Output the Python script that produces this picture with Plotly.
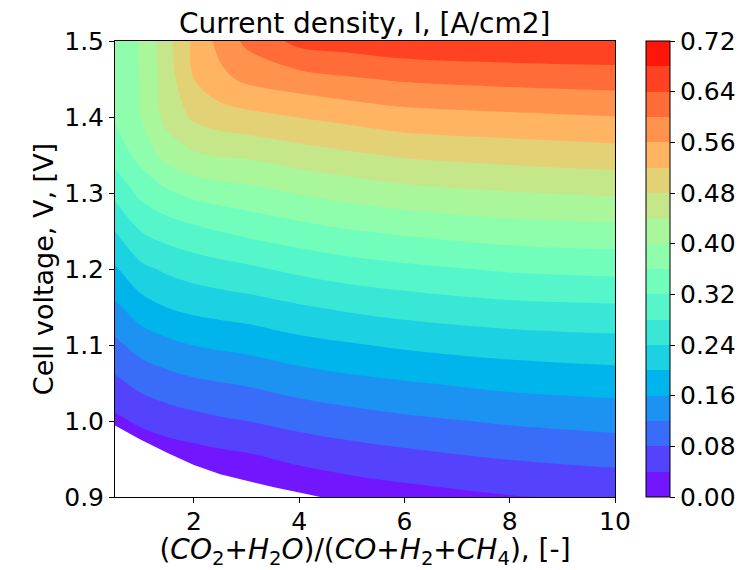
import math
import plotly.graph_objects as go

# ---------------- data ----------------
# gas ratio (CO2+H2O)/(CO+H2+CH4) [-]  (x grid)
ratio = [0.5, 1.0, 1.5, 2.0, 2.5, 3.0, 4.0, 5.0, 6.0, 8.0, 10.0]
# cell voltage [V] (y grid)
voltage = [0.90, 0.95, 1.00, 1.05, 1.10, 1.15, 1.20, 1.25, 1.30, 1.35, 1.40, 1.45, 1.50]

# current density [A/cm2] along the voltage grid, one list per ratio column
i_r0_5 = [-0.049, -0.009, 0.031, 0.071, 0.111, 0.152, 0.195, 0.240, 0.290, 0.336, 0.366, 0.378, 0.385]
i_r1_0 = [-0.042, 0.003, 0.048, 0.092, 0.136, 0.184, 0.231, 0.281, 0.331, 0.375, 0.401, 0.402, 0.403]
i_r1_5 = [-0.034, 0.013, 0.060, 0.104, 0.150, 0.201, 0.247, 0.298, 0.354, 0.415, 0.455, 0.462, 0.468]
i_r2_0 = [-0.028, 0.020, 0.068, 0.113, 0.161, 0.211, 0.258, 0.310, 0.371, 0.435, 0.487, 0.520, 0.528]
i_r2_5 = [-0.021, 0.027, 0.075, 0.119, 0.167, 0.217, 0.266, 0.321, 0.379, 0.444, 0.501, 0.550, 0.573]
i_r3_0 = [-0.016, 0.032, 0.080, 0.124, 0.172, 0.222, 0.273, 0.330, 0.386, 0.447, 0.508, 0.568, 0.609]
i_r4_0 = [0.002, 0.048, 0.093, 0.138, 0.187, 0.236, 0.289, 0.345, 0.402, 0.462, 0.521, 0.584, 0.652]
i_r5_0 = [0.015, 0.059, 0.103, 0.149, 0.197, 0.248, 0.302, 0.358, 0.415, 0.474, 0.533, 0.596, 0.660]
i_r6_0 = [0.024, 0.067, 0.112, 0.157, 0.206, 0.257, 0.311, 0.367, 0.426, 0.485, 0.544, 0.605, 0.670]
i_r8_0 = [0.038, 0.081, 0.125, 0.171, 0.218, 0.270, 0.325, 0.381, 0.438, 0.495, 0.552, 0.613, 0.676]
i_r10_0 = [0.047, 0.090, 0.134, 0.178, 0.225, 0.275, 0.331, 0.387, 0.445, 0.503, 0.559, 0.618, 0.678]

# lower edge of the computed (non-blank) region
blank_ratio = [0.5, 1.0, 1.5, 2.0, 2.5, 3.0, 3.5, 4.0, 4.4]
blank_voltage = [0.994, 0.975, 0.958, 0.942, 0.930, 0.921, 0.913, 0.906, 0.900]

# contour levels and tick labels
level_start, level_end, level_step = 0.0, 0.72, 0.04
cbar_ticks = [0.00, 0.08, 0.16, 0.24, 0.32, 0.40, 0.48, 0.56, 0.64, 0.72]
x_ticks = [2, 4, 6, 8, 10]
y_ticks = [0.9, 1.0, 1.1, 1.2, 1.3, 1.4, 1.5]

# ---------------- figure ----------------
columns = [i_r0_5, i_r1_0, i_r1_5, i_r2_0, i_r2_5, i_r3_0, i_r4_0,
           i_r5_0, i_r6_0, i_r8_0, i_r10_0]
z = [list(row) for row in zip(*columns)]   # rows follow voltage


def rainbow(t):
    r = min(1.0, abs(2 * t - 0.5))
    g = math.sin(math.pi * t)
    b = math.cos(math.pi * t / 2)
    return "rgb(%d,%d,%d)" % (round(r * 255), round(g * 255), round(b * 255))


nbands = int(round((level_end - level_start) / level_step))   # 18
nlev = nbands + 1                                               # 19
band_colors = [rainbow((k + 0.5) / nbands) for k in range(nbands)]

# contour fill: plotly samples band midpoints at colorscale positions j/nlev
fill_scale = [[0.0, "white"]]
for j in range(1, nlev + 1):
    fill_scale.append([j / nlev, band_colors[min(j - 1, nbands - 1)]])

# stepped scale for the colour bar (18 discrete bands from 0 to 0.72)
bar_scale = []
for k, c in enumerate(band_colors):
    bar_scale.append([k / nbands, c])
    bar_scale.append([(k + 1) / nbands, c])

FONT = "DejaVu Sans"

fig = go.Figure()
fig.add_trace(go.Contour(
    x=ratio, y=voltage, z=z,
    autocontour=False,
    contours=dict(start=level_start, end=level_end, size=level_step,
                  coloring="fill", showlines=False),
    line=dict(width=0),
    colorscale=fill_scale,
    showscale=False,
    hoverinfo="skip",
))
fig.add_trace(go.Scatter(
    x=blank_ratio, y=blank_voltage, mode="lines",
    line=dict(width=0, color="white"),
    fill="tozeroy", fillcolor="white",
    showlegend=False, hoverinfo="skip",
))
# colour bar holder (no visible points)
fig.add_trace(go.Scatter(
    x=[None], y=[None], mode="markers",
    marker=dict(color=[level_start], colorscale=bar_scale,
                cmin=level_start, cmax=level_end, showscale=True,
                colorbar=dict(
                    x=1.062, xanchor="left", xpad=0,
                    y=0.5, yanchor="middle", ypad=0,
                    len=1.0, lenmode="fraction",
                    thickness=24, thicknessmode="pixels",
                    outlinewidth=1, outlinecolor="black",
                    tickvals=cbar_ticks, tickformat=".2f",
                    ticks="outside", ticklen=5, tickwidth=1, tickcolor="black",
                    tickfont=dict(family=FONT, size=25, color="black"),
                )),
    showlegend=False, hoverinfo="skip",
))

axis_common = dict(
    showgrid=False, zeroline=False,
    showline=True, linecolor="black", linewidth=1, mirror=True,
    ticks="outside", ticklen=5, tickwidth=1, tickcolor="black",
    tickfont=dict(family=FONT, size=25, color="black"),
)
fig.update_xaxes(range=[0.5, 10], tickvals=x_ticks, ticklabelstandoff=-3,
                 title=dict(text="(<i>CO</i><sub>2</sub>+<i>H</i><sub>2</sub><i>O</i>)/"
                                 "(<i>CO</i>+<i>H</i><sub>2</sub>+<i>CH</i><sub>4</sub>), [-]",
                            font=dict(family=FONT, size=28, color="black"),
                            standoff=6),
                 **axis_common)
fig.update_yaxes(range=[0.9, 1.5], tickvals=y_ticks, tickformat=".1f",
                 title=dict(text="Cell voltage, V, [V]",
                            font=dict(family=FONT, size=27, color="black"),
                            standoff=2),
                 **axis_common)

fig.add_annotation(text="Current density, I, [A/cm2]", x=0.5, y=1.0,
                   xref="paper", yref="paper", xanchor="center", yanchor="bottom",
                   yshift=-1, showarrow=False,
                   font=dict(family=FONT, size=28, color="black"))

fig.update_layout(
    width=748, height=570,
    margin=dict(l=115, r=133, t=41, b=73, autoexpand=False),
    paper_bgcolor="white", plot_bgcolor="white",
    showlegend=False,
)

fig.write_html("out.html", config={"displayModeBar": False})

# remove the browser's default page margin so the figure sits at (0, 0)
with open("out.html", "r", encoding="utf-8") as fh:
    html = fh.read()
html = html.replace("<body>", '<body style="margin:0;padding:0;overflow:hidden;">', 1)
with open("out.html", "w", encoding="utf-8") as fh:
    fh.write(html)
